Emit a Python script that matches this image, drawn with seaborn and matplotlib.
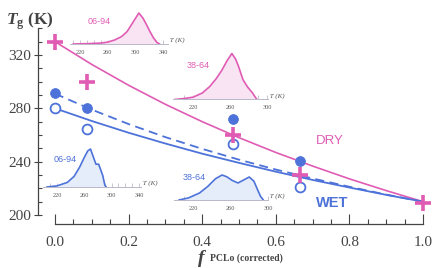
import numpy as np
import pandas as pd
import matplotlib
matplotlib.use("Agg")
import matplotlib.pyplot as plt
import seaborn as sns

# ---- data ----
f_pts = [0.0, 0.087, 0.485, 0.665, 1.0]
tg_dry = [330, 300, 260, 230, 209]
f_wet = [0.0, 0.087, 0.485, 0.665]
tg_wet_filled = [291.5, 280, 272, 240.5]
tg_wet_open = [280, 264.5, 253, 221]

f_curve = [0.0, 0.1, 0.2, 0.3, 0.4, 0.5, 0.6, 0.7, 0.8, 0.9, 1.0]
dry_curve = [330, 312.9, 297.3, 283.0, 270.0, 258.0, 246.9, 236.7, 227.1, 218.3, 210]
wet_dash_curve = [291, 279.0, 268.2, 258.4, 249.6, 241.5, 234.1, 227.4, 221.2, 215.3, 210]
wet_solid_curve = [280, 270.5, 261.7, 253.6, 246.0, 239.1, 232.5, 226.3, 220.6, 215.1, 210]

# inset distributions (temperature K, relative height)
dry0694_T = [210, 230, 250, 260, 270, 280, 288, 297, 305, 311, 316, 321, 326, 331, 335]
dry0694_h = [0.0, 0.01, 0.03, 0.06, 0.13, 0.24, 0.40, 0.72, 1.0, 0.83, 0.62, 0.40, 0.2, 0.05, 0.0]
dry3864_T = [200, 210, 220, 230, 238, 245, 251, 257, 262, 266, 269, 274, 279, 284, 289]
dry3864_h = [0, 0.02, 0.05, 0.14, 0.28, 0.45, 0.63, 0.85, 1.0, 0.88, 0.73, 0.43, 0.27, 0.15, 0.0]
wet0694_T = [205, 220, 235, 245, 253, 260, 265, 269, 273, 277, 281, 284, 287, 290, 292]
wet0694_h = [0, 0.03, 0.12, 0.28, 0.52, 0.78, 0.95, 1.0, 0.8, 0.6, 0.6, 0.45, 0.3, 0.05, 0]
wet3864_T = [205, 215, 227, 236, 244, 251, 256, 262, 268, 274, 280, 285, 289, 292, 295]
wet3864_h = [0.0, 0.08, 0.28, 0.55, 0.85, 1.0, 0.93, 0.78, 0.68, 0.8, 0.92, 0.75, 0.4, 0.15, 0.0]

PINK = "#e05cb4"
BLUE = "#4d72d9"
PINK_FILL = "#f9e4f3"
BLUE_FILL = "#e6edfa"
GREY = "#444444"

sns.set_theme(style="white")
plt.rcParams["font.family"] = ["Liberation Serif", "DejaVu Serif"]
plt.rcParams["mathtext.fontset"] = "custom"
plt.rcParams["mathtext.it"] = "Liberation Serif:italic:bold"
plt.rcParams["mathtext.rm"] = "Liberation Serif:bold"

W, H = 434, 268
fig = plt.figure(figsize=(W / 100, H / 100), dpi=100)


def px_axes(left, top, right, bottom):
    return fig.add_axes([left / W, 1 - bottom / H, (right - left) / W, (bottom - top) / H])


ax = px_axes(38, 2, 434, 224)
ax.set_facecolor("none")

sns.lineplot(x=f_curve, y=dry_curve, color=PINK, lw=1.2, ax=ax)
sns.lineplot(x=f_curve, y=wet_solid_curve, color=BLUE, lw=1.3, ax=ax)
sns.lineplot(x=f_curve, y=wet_dash_curve, color=BLUE, lw=1.3, ax=ax, linestyle=(0, (5, 3)))

sns.scatterplot(x=f_wet, y=tg_wet_filled, color=BLUE, s=50, edgecolor=BLUE, ax=ax, zorder=4)
sns.scatterplot(x=f_wet, y=tg_wet_open, marker="o", s=50, facecolor="white",
                edgecolor=BLUE, linewidth=1.3, ax=ax, zorder=4)
sns.scatterplot(x=f_pts, y=tg_dry, marker="+", s=140, color=PINK, linewidth=2.6, ax=ax, zorder=5)

ax.set_xlim((38 - 55) / 368, (434 - 55) / 368)
ax.set_ylim(200 - 9 * 0.75, 200 + 213 * 0.75)
for s in ["top", "right"]:
    ax.spines[s].set_visible(False)
ax.spines["left"].set_bounds(200, 340)
ax.spines["bottom"].set_bounds(0, 1)
for s in ["left", "bottom"]:
    ax.spines[s].set_color(GREY)
    ax.spines[s].set_linewidth(0.9)

ax.set_xticks(np.arange(0, 1.01, 0.2))
ax.set_xticks(np.arange(0, 1.01, 0.05), minor=True)
ax.set_xticklabels([f"{v:.1f}" for v in np.arange(0, 1.01, 0.2)])
ax.set_yticks([200, 240, 280, 320])
ax.set_yticks(np.arange(200, 341, 10), minor=True)
ax.tick_params(axis="x", which="major", direction="in", length=7, width=0.8, color=GREY,
               pad=9, labelsize=11, labelcolor=GREY, bottom=True)
ax.tick_params(axis="x", which="minor", direction="in", length=3.5, width=0.8, color=GREY, bottom=True)
ax.tick_params(axis="y", which="major", direction="inout", length=6, width=0.8, color=GREY,
               pad=2, labelsize=11, labelcolor=GREY, left=True)
ax.tick_params(axis="y", which="minor", direction="in", length=3, width=0.8, color=GREY, left=True)
ax.set_xlabel("")
ax.set_ylabel("")

fig.text(6 / W, 1 - 25 / H, r"$T_{\mathrm{g}}\ \mathrm{(K)}$", fontsize=12.5, color=GREY)
fig.text(198 / W, 1 - 263 / H, "f", fontsize=14, fontweight="bold", fontstyle="italic",
         color=GREY, va="baseline")
fig.text(210 / W, 1 - 261 / H, "PCLo (corrected)", fontsize=7, fontweight="bold",
         color=GREY, va="baseline")

ax.text(0.665 + 0.045, 253, "DRY", color=PINK, fontsize=9.5, family="Liberation Sans")
ax.text(0.71, 206, "WET", color=BLUE, fontsize=10.5, fontweight="bold", family="Liberation Sans")


def inset(left, right, base, height, tmin, tmax, T, h, col, fill, ticks, name, name_xy):
    peak_px = height
    a = px_axes(left, base - height - 2, right, base)
    a.set_facecolor("none")
    sns.lineplot(x=T, y=h, color=col, lw=1.2, ax=a)
    a.fill_between(T, h, color=fill, lw=0)
    a.set_xlim(tmin, tmax)
    a.set_ylim(0, (peak_px + 2) / peak_px)
    for s in ["top", "right", "left"]:
        a.spines[s].set_visible(False)
    a.spines["bottom"].set_color("#b8b8c8")
    a.spines["bottom"].set_linewidth(0.7)
    a.set_xticks(ticks)
    a.set_xticks(np.arange(ticks[0] - 10, tmax, 10), minor=True)
    a.set_yticks([])
    a.tick_params(axis="x", which="both", direction="in", length=3, width=0.5,
                  color="#b0b0c0", pad=4, labelsize=4.5, labelcolor="#555555", bottom=True)
    a.set_xlabel("")
    a.set_ylabel("")
    a.text(1.0, 0.02, " T (K)", transform=a.transAxes, fontsize=5, fontstyle="italic",
           color="#555555", ha="left", va="bottom")
    fig.text(name_xy[0] / W, 1 - name_xy[1] / H, name, color=col, fontsize=6.5,
             family="Liberation Sans", va="center")


inset(69.6, 168, 44, 31, 205, 347, dry0694_T, dry0694_h, PINK, PINK_FILL,
      [220, 260, 300, 340], "06-94", (88, 22))
inset(172.6, 268, 99.5, 46, 198, 301, dry3864_T, dry3864_h, PINK, PINK_FILL,
      [220, 260, 300], "38-64", (187, 65))
inset(43.4, 141, 187, 38, 200, 343, wet0694_T, wet0694_h, BLUE, BLUE_FILL,
      [220, 260, 300, 340], "06-94", (54, 159))
inset(174.2, 268, 200, 25, 200, 300, wet3864_T, wet3864_h, BLUE, BLUE_FILL,
      [220, 260, 300], "38-64", (183, 177))

fig.savefig("out.png", dpi=100)
